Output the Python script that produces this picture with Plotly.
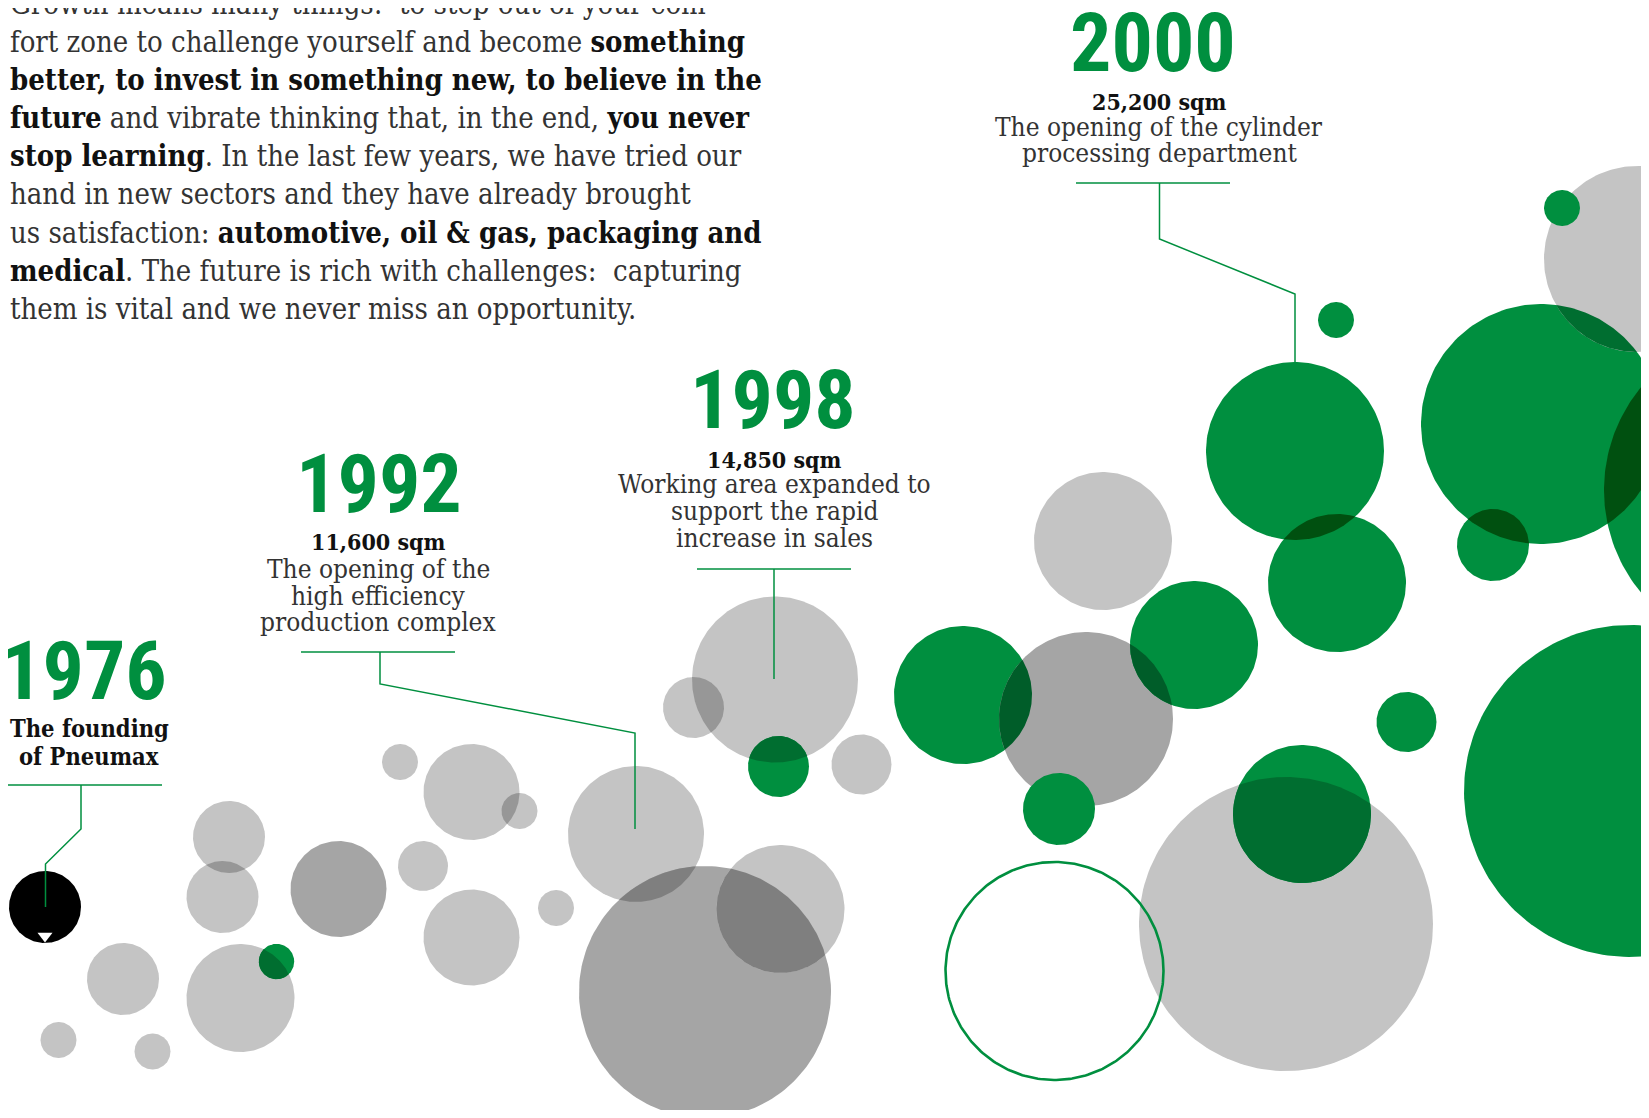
import numpy as np
import plotly.graph_objects as go

W, H = 1649, 1118
PAD = 8  # default <body> margin of the written page

GREEN = "rgb(0,143,63)"
TEXT = "#333333"
DARK = "#111111"
NUM_FONT = "Roboto Condensed, Liberation Sans Narrow, Roboto, sans-serif"
SERIF = "DejaVu Serif Condensed, DejaVu Serif, serif"
DESC = 0.24  # font descent, as a share of the font size

TONES = {
    "black": (0, 0, 0),
    "light": (196, 196, 196),
    "mid": (165, 165, 165),
    "green": (0, 143, 63),
}

# bubbles (page pixels): centre, radius, tone, painted flat on top (no multiply)
bubble_x = [45, 123, 58.5, 152.5, 229, 222.5, 240.5, 276.5, 338.5, 400,
            471.5, 519.5, 423, 471.5, 556, 636, 705, 780.5, 775, 693.5,
            778.5, 861.5, 963, 1086, 1103, 1194, 1059, 1286, 1302, 1337,
            1295, 1336, 1406.5, 1493, 1541, 1637, 1562, 1765, 1630]
bubble_y = [907, 979, 1040, 1051.5, 837, 897, 998, 961.5, 889, 762,
            792, 811, 866, 937.5, 908, 834, 992, 909, 679.5, 707.5,
            766.5, 764.5, 695, 719, 541, 645, 809, 924, 814, 583,
            451, 320, 722, 545, 424, 259, 208, 490, 791]
bubble_r = [36, 36, 18, 18, 36, 36, 54, 17.7, 48, 18,
            48, 18, 25, 48, 18, 68, 126, 64, 83, 30.5,
            30.5, 30, 69, 87, 69, 64, 36, 147, 69, 69,
            89, 18, 30, 36, 120, 93, 18, 161, 166]
bubble_tone = ["black", "light", "light", "light", "light", "light", "light", "green", "mid", "light",
               "light", "light", "light", "light", "light", "light", "mid", "light", "light", "light",
               "green", "light", "green", "mid", "light", "green", "green", "light", "green", "green",
               "green", "green", "green", "green", "green", "light", "green", "green", "green"]
bubble_flat = [False] * len(bubble_x)
bubble_flat[26] = True
bubble_flat[36] = True

# outlined ring
ring_x, ring_y, ring_r = 1054.5, 971, 109

# milestones
years = ["1976", "1992", "1998", "2000"]
year_cx = [84, 379, 773, 1153]
year_base = [700, 513, 429, 72]
areas = ["", "11,600 sqm", "14,850 sqm", "25,200 sqm"]
area_base = [0, 550, 468, 110]
captions = [
    ["The founding", "of Pneumax"],
    ["The opening of the", "high efficiency", "production complex"],
    ["Working area expanded to", "support the rapid", "increase in sales"],
    ["The opening of the cylinder", "processing department"],
]
caption_base = [[738, 766], [579, 606, 632], [494, 521, 548], [137, 163]]
caption_cx = [89, 378, 774, 1159]

# leader lines from each caption down to its bubble
leader_x = [
    [8, 162, None, 81, 81, 45.5, 45.5],
    [301, 455, None, 380, 380, 635, 635],
    [697, 851, None, 774, 774],
    [1076, 1230, None, 1159.5, 1159.5, 1295, 1295],
]
leader_y = [
    [785, 785, None, 785, 829, 864, 907],
    [652, 652, None, 652, 684, 733, 829],
    [569, 569, None, 569, 679],
    [183, 183, None, 183, 239, 294, 362],
]

# intro paragraph, one entry per printed line
intro_lines = [
    "Growth means many things:  to step out of your com-",
    "fort zone to challenge yourself and become <b>something</b>",
    "<b>better, to invest in something new, to believe in the</b>",
    "<b>future</b> and vibrate thinking that, in the end, <b>you never</b>",
    "<b>stop learning</b>. In the last few years, we have tried our",
    "hand in new sectors and they have already brought",
    "us satisfaction: <b>automotive, oil &amp; gas, packaging and</b>",
    "<b>medical</b>. The future is rich with challenges:  capturing",
    "them is vital and we never miss an opportunity.",
]
intro_base = [15, 53, 91, 129, 167, 205, 244, 282, 320]


def rgb(c):
    return "rgb(%d,%d,%d)" % tuple(int(round(v)) for v in c)


def circle_pts(cx, cy, r, n=200):
    t = np.linspace(0, 2 * np.pi, n)
    return cx + r * np.cos(t), cy + r * np.sin(t)


def lens_pts(c1, c2, n=400):
    (x1, y1, r1), (x2, y2, r2) = c1, c2
    t = np.linspace(0, 2 * np.pi, n, endpoint=False)
    ax, ay = x1 + r1 * np.cos(t), y1 + r1 * np.sin(t)
    bx, by = x2 + r2 * np.cos(t), y2 + r2 * np.sin(t)
    ina = (ax - x2) ** 2 + (ay - y2) ** 2 <= r2 ** 2
    inb = (bx - x1) ** 2 + (by - y1) ** 2 <= r1 ** 2
    xs = list(ax[ina]) + list(bx[inb])
    ys = list(ay[ina]) + list(by[inb])
    d = np.hypot(x2 - x1, y2 - y1)
    if abs(r1 - r2) < d < r1 + r2:
        a = (r1 ** 2 - r2 ** 2 + d ** 2) / (2 * d)
        h = np.sqrt(max(r1 ** 2 - a ** 2, 0))
        mx, my = x1 + a * (x2 - x1) / d, y1 + a * (y2 - y1) / d
        xs += [mx + h * (y2 - y1) / d, mx - h * (y2 - y1) / d]
        ys += [my - h * (x2 - x1) / d, my + h * (x2 - x1) / d]
    xs, ys = np.array(xs), np.array(ys)
    if len(xs) < 3:
        return None
    cx, cy = xs.mean(), ys.mean()
    order = np.argsort(np.arctan2(ys - cy, xs - cx))
    xs, ys = xs[order], ys[order]
    return np.append(xs, xs[0]), np.append(ys, ys[0])


fig = go.Figure()


def add_fill(xs, ys, color):
    fig.add_trace(go.Scatter(x=xs, y=ys, mode="lines", fill="toself",
                             fillcolor=color, line=dict(width=0, color=color),
                             hoverinfo="skip", showlegend=False))


n = len(bubble_x)
# base bubbles
for i in range(n):
    if bubble_flat[i]:
        continue
    xs, ys = circle_pts(bubble_x[i], bubble_y[i], bubble_r[i])
    add_fill(xs, ys, rgb(TONES[bubble_tone[i]]))

# overlaps darken like ink (multiply)
for i in range(n):
    for j in range(i + 1, n):
        if bubble_flat[i] or bubble_flat[j]:
            continue
        d = np.hypot(bubble_x[i] - bubble_x[j], bubble_y[i] - bubble_y[j])
        if d >= bubble_r[i] + bubble_r[j]:
            continue
        pts = lens_pts((bubble_x[i], bubble_y[i], bubble_r[i]),
                       (bubble_x[j], bubble_y[j], bubble_r[j]))
        if pts is None:
            continue
        ca, cb = TONES[bubble_tone[i]], TONES[bubble_tone[j]]
        add_fill(pts[0], pts[1], rgb([p * q / 255 for p, q in zip(ca, cb)]))

# flat bubbles on top
for i in range(n):
    if bubble_flat[i]:
        xs, ys = circle_pts(bubble_x[i], bubble_y[i], bubble_r[i])
        add_fill(xs, ys, rgb(TONES[bubble_tone[i]]))

# outlined ring
rx, ry = circle_pts(ring_x, ring_y, ring_r, 300)
fig.add_trace(go.Scatter(x=rx, y=ry, mode="lines", line=dict(color=GREEN, width=2.6),
                         hoverinfo="skip", showlegend=False))

# little arrow on the founding bubble
fig.add_trace(go.Scatter(x=[bubble_x[0]], y=[bubble_y[0] + 29], mode="markers",
                         marker=dict(symbol="triangle-down", size=13, color="white",
                                     line=dict(width=0)),
                         hoverinfo="skip", showlegend=False))

# leader lines
for lx, ly in zip(leader_x, leader_y):
    fig.add_trace(go.Scatter(x=lx, y=ly, mode="lines", line=dict(color=GREEN, width=1.5),
                             hoverinfo="skip", showlegend=False, connectgaps=False))


def add_text(x, base, text, size, family, color=TEXT, anchor="center", weight=None):
    font = dict(family=family, size=size, color=color)
    if weight:
        font["weight"] = weight
    fig.add_annotation(x=x, y=base + DESC * size, xref="x", yref="y", text=text,
                       showarrow=False, xanchor=anchor, yanchor="bottom",
                       borderpad=0, font=font)


for k in range(len(years)):
    add_text(year_cx[k], year_base[k], years[k], 82, NUM_FONT, GREEN, weight=700)
    if areas[k]:
        add_text(caption_cx[k], area_base[k], "<b>" + areas[k] + "</b>", 23, SERIF, DARK)
    for line, base in zip(captions[k], caption_base[k]):
        if k == 0:
            add_text(caption_cx[k], base, "<b>" + line + "</b>", 23.5, SERIF, DARK)
        else:
            add_text(caption_cx[k], base, line, 26, SERIF)

for line, base in zip(intro_lines, intro_base):
    line = line.replace("<b>", '<b><span style="color:%s">' % DARK).replace("</b>", "</span></b>")
    add_text(8.5, base, line, 29, SERIF, anchor="left")

fig.update_layout(
    width=W - 2 * PAD, height=H - 2 * PAD,
    margin=dict(l=0, r=0, t=0, b=0),
    paper_bgcolor="white", plot_bgcolor="white",
    showlegend=False,
    xaxis=dict(range=[PAD, W - PAD], visible=False, fixedrange=True),
    yaxis=dict(range=[H - PAD, PAD], visible=False, fixedrange=True),
)

fig.write_html("out.html", config={"displayModeBar": False})
